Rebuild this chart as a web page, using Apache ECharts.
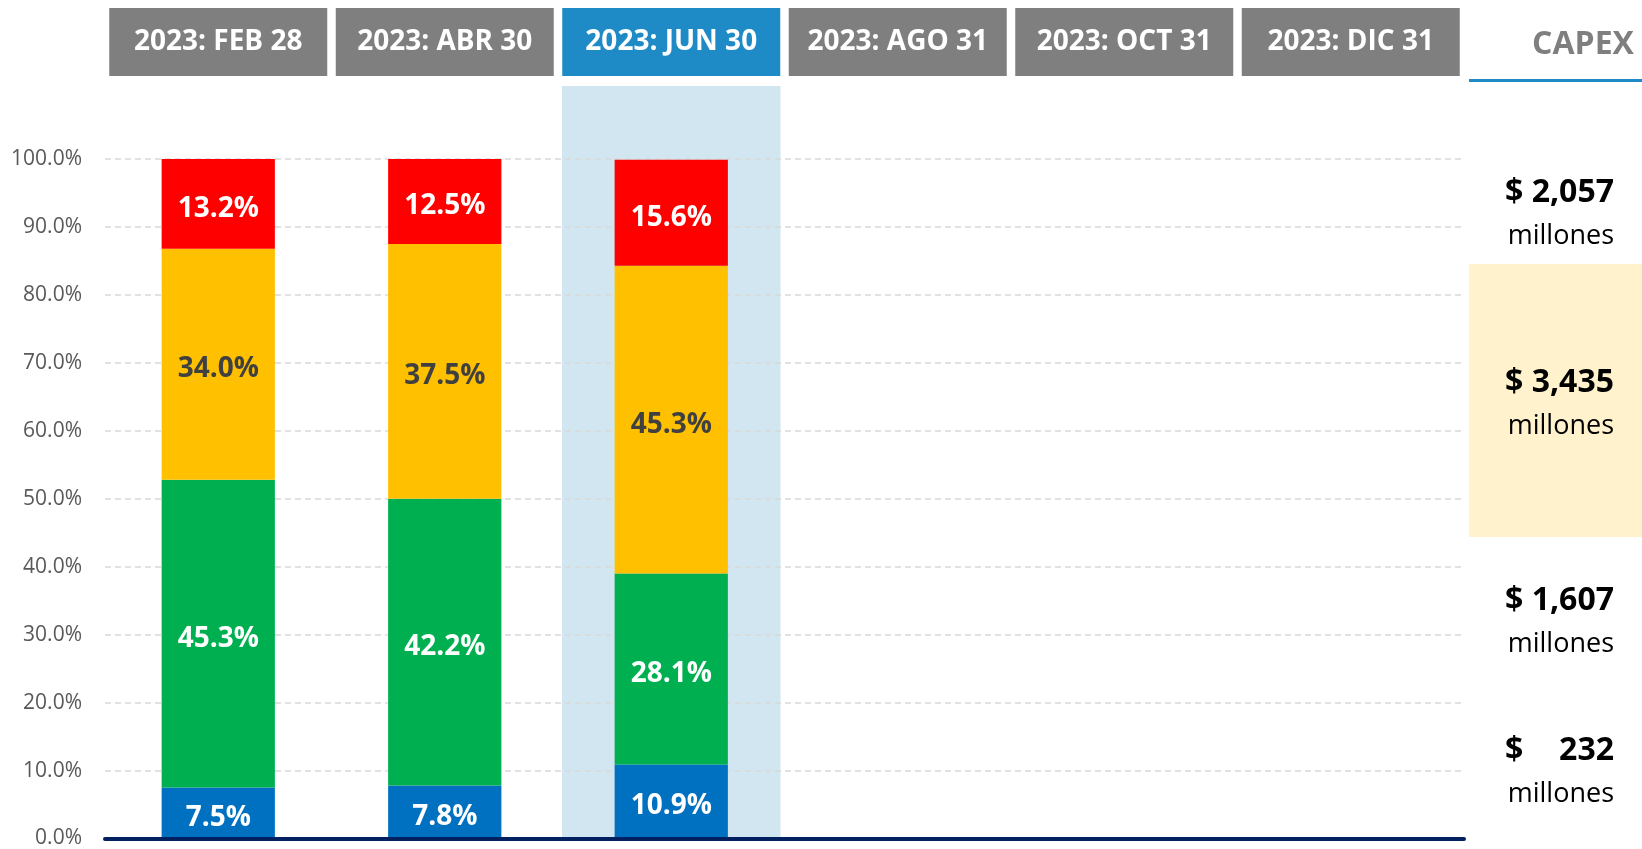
<!DOCTYPE html>
<html>
<head>
<meta charset="utf-8">
<script src="https://cdn.jsdelivr.net/npm/echarts@6/dist/echarts.min.js"></script>
<style>
  html, body { margin: 0; padding: 0; background: #fff; }
  #chart { width: 1642px; height: 849px; }
</style>
</head>
<body>
<div id="chart"></div>
<script>
const categories = ['2023: FEB 28', '2023: ABR 30', '2023: JUN 30', '2023: AGO 31', '2023: OCT 31', '2023: DIC 31'];
const highlightCategory = '2023: JUN 30';

const blueValues = [7.5, 7.8, 10.9, null, null, null];
const greenValues = [45.3, 42.2, 28.1, null, null, null];
const yellowValues = [34.0, 37.5, 45.3, null, null, null];
const redValues = [13.2, 12.5, 15.6, null, null, null];

const yTicks = [0, 10, 20, 30, 40, 50, 60, 70, 80, 90, 100];

const capexTitle = 'CAPEX';
const capexAmounts = ['2,057', '3,435', '1,607', '232'];
const capexUnit = 'millones';

// layout of the right-hand panel (pixels)
const panelLeft = 1469;
const capexCenters = [193, 383, 601, 751];

const FONT = '"Open Sans", "Liberation Sans", sans-serif';

const chart = echarts.init(document.getElementById('chart'));

function pct(v) {
  return v == null ? '' : v.toFixed(1) + '%';
}

function stackSeries(name, data, color, labelColor) {
  return {
    name,
    type: 'bar',
    stack: 'total',
    xAxisIndex: 0,
    yAxisIndex: 0,
    barWidth: '50%',
    z: 4,
    data,
    itemStyle: { color },
    label: {
      show: true,
      position: 'inside',
      offset: [0, 5],
      formatter: (p) => pct(p.value),
      color: labelColor,
      fontFamily: FONT,
      fontSize: 28,
      fontWeight: 'bold',
    },
  };
}

// right panel: title, underline, highlighted box, amounts
const graphics = [
  { type: 'rect', shape: { x: panelLeft, y: 264, width: 1642 - panelLeft, height: 273 }, style: { fill: '#FFF2CC' }, silent: true },
  { type: 'rect', shape: { x: panelLeft, y: 79, width: 1642 - panelLeft, height: 3 }, style: { fill: '#1E8BC6' }, silent: true },
  {
    type: 'text', x: 1583, y: 45,
    style: { text: capexTitle, fill: '#7F7F7F', font: 'bold 32px ' + FONT, textAlign: 'center', textVerticalAlign: 'middle' },
  },
];
capexAmounts.forEach((amt, i) => {
  const cy = capexCenters[i];
  graphics.push(
    { type: 'text', x: 1505, y: cy, style: { text: '$', fill: '#000', font: 'bold 32px ' + FONT, textAlign: 'left', textVerticalAlign: 'middle' } },
    { type: 'text', x: 1614, y: cy, style: { text: amt, fill: '#000', font: 'bold 32px ' + FONT, textAlign: 'right', textVerticalAlign: 'middle' } },
    { type: 'text', x: 1614, y: cy + 43, style: { text: capexUnit, fill: '#000', font: '27px ' + FONT, textAlign: 'right', textVerticalAlign: 'middle' } }
  );
});

const headerStyle = (bg) => ({
  width: 218,
  height: 68,
  lineHeight: 68,
  align: 'center',
  backgroundColor: bg,
  color: '#ffffff',
  fontFamily: FONT,
  fontSize: 28,
  fontWeight: 'bold',
});

const option = {
  backgroundColor: '#ffffff',
  animation: false,
  grid: [
    { left: 105, right: 178, top: 159, bottom: 9 },
    { left: 105, right: 178, top: 86, bottom: 11 },
  ],
  xAxis: [
    {
      type: 'category',
      gridIndex: 0,
      data: categories,
      z: 6,
      axisLine: { lineStyle: { color: '#002060', width: 4 } },
      axisTick: { show: false },
      axisLabel: { show: false },
    },
    {
      type: 'category',
      gridIndex: 0,
      position: 'top',
      data: categories,
      axisLine: { show: false },
      axisTick: { show: false },
      axisLabel: {
        interval: 0,
        margin: 83,
        formatter: (v) => (v === highlightCategory ? '{h|' + v + '}' : '{n|' + v + '}'),
        rich: { n: headerStyle('#7F7F7F'), h: headerStyle('#1E8BC6') },
      },
    },
    {
      type: 'category',
      gridIndex: 1,
      data: categories,
      show: false,
    },
  ],
  yAxis: [
    {
      type: 'value',
      gridIndex: 0,
      min: yTicks[0],
      max: yTicks[yTicks.length - 1],
      interval: 10,
      z: 3,
      axisLine: { show: false },
      axisTick: { show: false },
      axisLabel: {
        margin: 23,
        formatter: (v) => v.toFixed(1) + '%',
        color: '#595959',
        fontFamily: FONT,
        fontSize: 21,
      },
      splitLine: { lineStyle: { color: '#D9D9D9', width: 1.5, type: [6, 4] } },
    },
    { type: 'value', gridIndex: 1, min: 0, max: 1, show: false },
  ],
  series: [
    {
      name: 'band',
      type: 'bar',
      xAxisIndex: 2,
      yAxisIndex: 1,
      barWidth: '96.5%',
      z: 1,
      silent: true,
      data: categories.map((c) => (c === highlightCategory ? 1 : null)),
      itemStyle: { color: '#D2E6F1' },
    },
    stackSeries('blue', blueValues, '#0070C0', '#ffffff'),
    stackSeries('green', greenValues, '#00B050', '#ffffff'),
    stackSeries('yellow', yellowValues, '#FFC000', '#404040'),
    stackSeries('red', redValues, '#FF0000', '#ffffff'),
  ],
  graphic: graphics,
};

chart.setOption(option);
</script>
</body>
</html>
